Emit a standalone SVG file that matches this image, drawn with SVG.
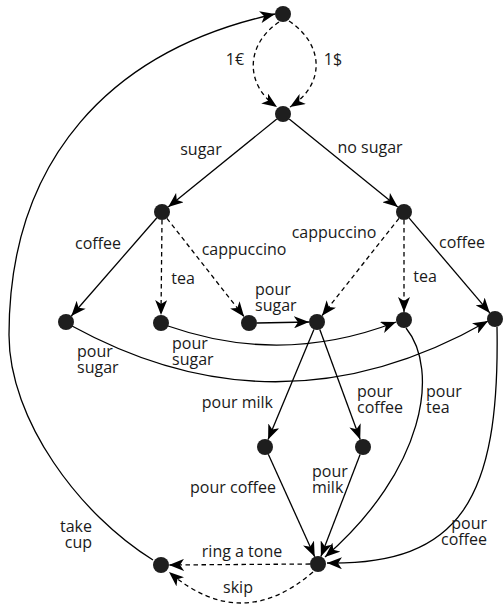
<svg xmlns="http://www.w3.org/2000/svg" width="503" height="604" viewBox="0 0 503 604">
<style>
.n{fill:#1e1e1e}
.e{fill:none;stroke:#000;stroke-width:1.3;marker-end:url(#ah)}
.d{stroke-dasharray:4.5 3.5}
text{font-family:"Open Sans","Liberation Sans",sans-serif;font-size:16px;fill:#1a1a1a}
.m{text-anchor:middle}
.r{text-anchor:end}
</style>
<defs>
<marker id="ah" markerUnits="userSpaceOnUse" viewBox="0 0 16 12" markerWidth="16" markerHeight="12" refX="15" refY="6" orient="auto">
<path d="M0,0 L15,6 L0,12 L4,6 Z" fill="#000"/>
</marker>
</defs>
<rect width="503" height="604" fill="#fff"/>
<g id="edges">
<path class="e d" d="M279,22 C245,45 245,85 277,107"/>
<path class="e d" d="M289,21 C325,45 325,85 290,107"/>
<path class="e" d="M276.8,119 L168.2,207"/>
<path class="e" d="M289.2,119 L397.8,207"/>
<path class="e" d="M156.7,218 L71.3,316"/>
<path class="e d" d="M162,220 L161,315"/>
<path class="e d" d="M166.9,218.3 L244.1,316.7"/>
<path class="e d" d="M399,218.3 L322,315.7"/>
<path class="e d" d="M404,220 L404,312"/>
<path class="e" d="M409.2,218.1 L489.8,312.9"/>
<path class="e" d="M257,323 L309,322"/>
<path class="e" d="M168,326 Q282,366 396,322"/>
<path class="e" d="M72,326 Q280,440 488,321"/>
<path class="e" d="M313.9,329.4 L268.1,439.6"/>
<path class="e" d="M319.8,329.5 L360.2,439.5"/>
<path class="e" d="M406,328 C440,370 425,470 325,557"/>
<path class="e" d="M497,327 C500,500 460,565 327,563"/>
<path class="e" d="M268.3,454.3 L314.7,556.7"/>
<path class="e" d="M360.1,454.5 L320.9,556.5"/>
<path class="e d" d="M310,564 L169,565"/>
<path class="e d" d="M313,572 Q241,634 169,572"/>
<path class="e" d="M153,560 C80,515 9,420 9,335 C9,160 110,50 275,14"/>
</g>
<g id="labels">
<text class="m" x="235" y="65">1€</text>
<text class="m" x="333" y="65">1$</text>
<text class="m" x="201" y="155">sugar</text>
<text class="m" x="370" y="153">no sugar</text>
<text class="m" x="98" y="249">coffee</text>
<text class="m" x="183" y="284">tea</text>
<text class="m" x="244" y="255">cappuccino</text>
<text class="m" x="334" y="238">cappuccino</text>
<text class="m" x="425" y="282">tea</text>
<text class="m" x="462" y="248">coffee</text>
<text x="255" y="295">pour<tspan x="255" y="311">sugar</tspan></text>
<text x="172" y="349">pour<tspan x="172" y="365">sugar</tspan></text>
<text x="77" y="357">pour<tspan x="77" y="373">sugar</tspan></text>
<text class="r" x="273" y="408">pour milk</text>
<text x="357" y="397">pour<tspan x="357" y="413">coffee</tspan></text>
<text x="426" y="397">pour<tspan x="426" y="413">tea</tspan></text>
<text class="r" x="487" y="529">pour<tspan x="487" y="545">coffee</tspan></text>
<text class="r" x="276" y="493">pour coffee</text>
<text x="312" y="477">pour<tspan x="312" y="493">milk</tspan></text>
<text class="r" x="92" y="532">take<tspan x="92" y="548">cup</tspan></text>
<text class="m" x="242" y="557">ring a tone</text>
<text class="m" x="238" y="593">skip</text>
</g>
<g id="nA"><circle class="n" cx="283" cy="14" r="8"/></g>
<g id="nB"><circle class="n" cx="283" cy="114" r="8"/></g>
<g id="nC"><circle class="n" cx="162" cy="212" r="8"/></g>
<g id="nD"><circle class="n" cx="404" cy="212" r="8"/></g>
<g id="nE"><circle class="n" cx="66" cy="322" r="8"/></g>
<g id="nF"><circle class="n" cx="161" cy="323" r="8"/></g>
<g id="nG"><circle class="n" cx="249" cy="323" r="8"/></g>
<g id="nH"><circle class="n" cx="317" cy="322" r="8"/></g>
<g id="nI"><circle class="n" cx="404" cy="320" r="8"/></g>
<g id="nJ"><circle class="n" cx="495" cy="319" r="8"/></g>
<g id="nK"><circle class="n" cx="265" cy="447" r="8"/></g>
<g id="nL"><circle class="n" cx="363" cy="447" r="8"/></g>
<g id="nM"><circle class="n" cx="318" cy="564" r="8"/></g>
<g id="nN"><circle class="n" cx="161" cy="565" r="8"/></g>
</svg>
